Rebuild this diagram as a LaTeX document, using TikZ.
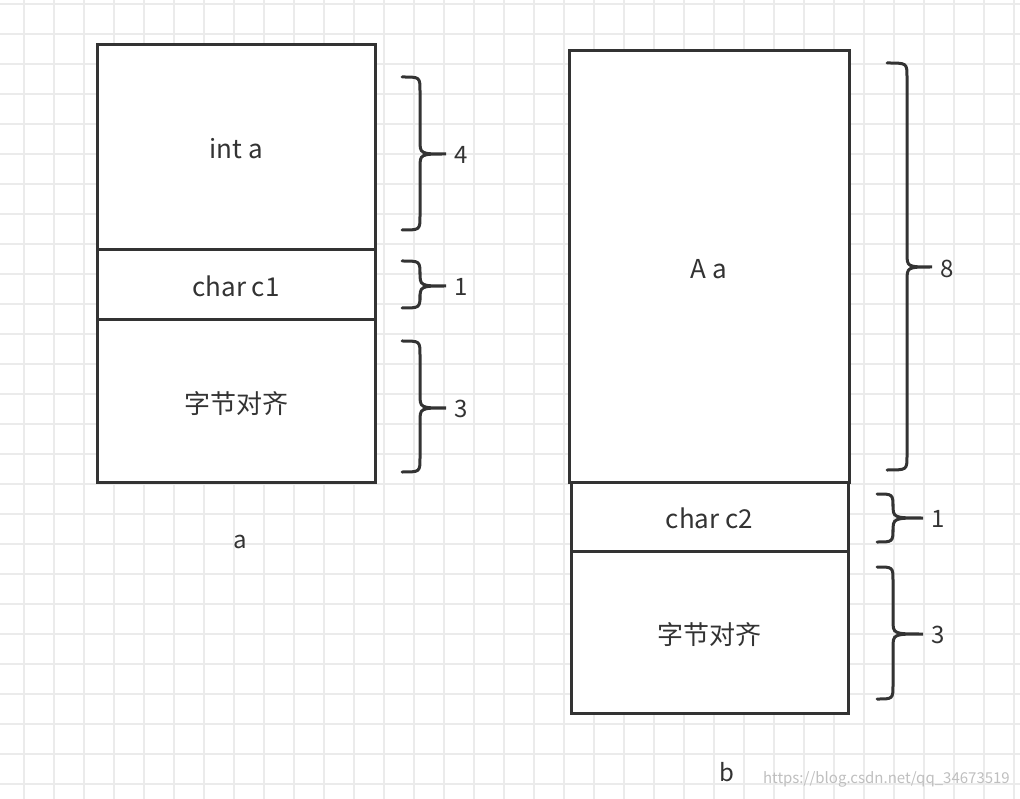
\documentclass[tikz,border=0pt]{standalone}
\usepackage{fontspec}
\setmainfont{Noto Sans CJK SC}
\definecolor{dark}{HTML}{333333}
\definecolor{txt}{HTML}{333333}
\definecolor{gridc}{HTML}{EBEBEB}
\newcommand\curlybrace[6]{% xl, xs, xt, ytop, ybot, ymid
  \pgfmathsetmacro\rr{14}
  \pgfmathsetmacro\ya{#4+\rr}
  \pgfmathsetmacro\yb{#6-\rr}
  \pgfmathsetmacro\yc{#6+\rr}
  \pgfmathsetmacro\yd{#5-\rr}
  \draw[brc] (#1,#4) .. controls (#2,#4) .. (#2,\ya) -- (#2,\yb) .. controls (#2,#6) .. (#3,#6)
    .. controls (#2,#6) .. (#2,\yc) -- (#2,\yd) .. controls (#2,#5) .. (#1,#5);
}
\begin{document}
\begin{tikzpicture}[x=1pt,y=-1pt,
  box/.style={draw=dark,line width=3pt,fill=white,inner sep=0pt,outer sep=0pt},
  lbl/.style={font=\fontsize{26}{30}\selectfont,text=txt},
  num/.style={font=\fontsize{24}{28}\selectfont,text=txt,anchor=west,inner sep=0pt},
  captxt/.style={font=\fontsize{24}{28}\selectfont,text=txt},
  brc/.style={draw=dark,line width=3pt,line cap=round},
  gridline/.style={draw=gridc,line width=2pt}]
\useasboundingbox (0,0) rectangle (1020,799);
\fill[white] (0,0) rectangle (1020,799);
\foreach \x in {24,54,...,1014} \draw[gridline] (\x,0) -- (\x,799);
\foreach \y in {4,34,...,799} \draw[gridline] (0,\y) -- (1020,\y);

% left structure
\node[box,minimum width=278pt,minimum height=205pt] (inta) at (236,147.5) {};
\node[box,minimum width=278pt,minimum height=70pt] (charc1) at (236,285) {};
\node[box,minimum width=278pt,minimum height=162pt] (padl) at (236,401) {};
\node[lbl] (tinta) at ([yshift=-1pt]inta.center) {int a};
\node[lbl] (tc1) at ([yshift=-1pt]charc1.center) {char c1};
\node[lbl] (tpadl) at ([yshift=-3pt]padl.center) {字节对齐};
\node[captxt] (capa) at (240,542) {a};

% right structure
\node[box,minimum width=280pt,minimum height=431pt] (Aa) at (709,266.5) {};
\node[box,minimum width=277pt,minimum height=69pt] (charc2) at (709.5,516.5) {};
\node[box,minimum width=277pt,minimum height=162pt] (padr) at (709.5,632) {};
\node[lbl] (tAa) at ([yshift=-3pt]Aa.center) {A a};
\node[lbl] (tc2) at ([yshift=-2pt]charc2.center) {char c2};
\node[lbl] (tpadr) at ([yshift=-3pt]padr.center) {字节对齐};
\node[captxt] (capb) at (727,772) {b};

% braces
\curlybrace{402}{420}{446}{77}{230}{154}
\curlybrace{402}{420}{446}{261}{308}{286}
\curlybrace{402}{420}{446}{341}{472}{408}
\curlybrace{887}{907}{932}{63}{470}{267}
\curlybrace{877}{893}{923}{494}{542}{518}
\curlybrace{877}{893}{923}{567}{699}{634}

\node[num] (n4) at (454,155) {4};
\node[num] (n1) at (454,287) {1};
\node[num] (n3) at (454,409) {3};
\node[num] (n8) at (940,269) {8};
\node[num] (n1b) at (931,519) {1};
\node[num] (n3b) at (931,635) {3};

\node[font=\fontsize{15}{18}\selectfont,text=black!25,anchor=east,inner sep=0pt] (wm) at (1010,779) {https://blog.csdn.net/qq\_34673519};
\end{tikzpicture}
\end{document}
